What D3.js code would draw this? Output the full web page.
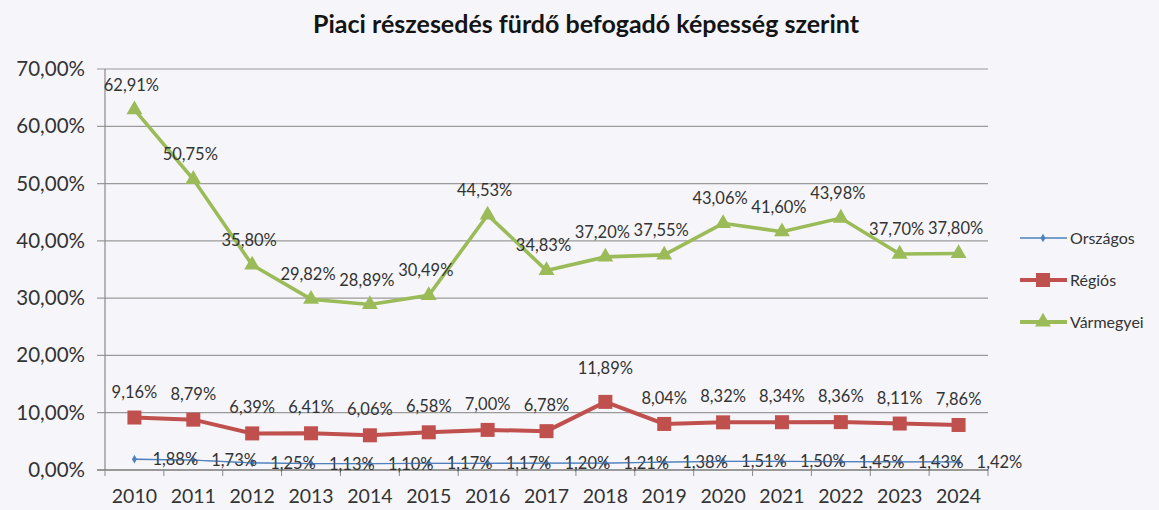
<!DOCTYPE html>
<html><head><meta charset="utf-8">
<script src="https://cdn.jsdelivr.net/npm/d3@7"></script>
<style>
body{margin:0;background:#f6f6fa;}
svg{display:block;font-family:Lato,'Open Sans',sans-serif;}
</style>
</head><body>
<svg id="c" width="1159" height="510"></svg>
<script>
const title = "Piaci részesedés fürdő befogadó képesség szerint";
const years = [2010,2011,2012,2013,2014,2015,2016,2017,2018,2019,2020,2021,2022,2023,2024];
const orszagos = [1.88,1.73,1.25,1.13,1.10,1.17,1.17,1.20,1.21,1.38,1.51,1.50,1.45,1.43,1.42];
const regios = [9.16,8.79,6.39,6.41,6.06,6.58,7.00,6.78,11.89,8.04,8.32,8.34,8.36,8.11,7.86];
const varmegyei = [62.91,50.75,35.80,29.82,28.89,30.49,44.53,34.83,37.20,37.55,43.06,41.60,43.98,37.70,37.80];
const yTicks = [0,10,20,30,40,50,60,70];
const seriesNames = ["Országos","Régiós","Vármegyei"];

(function(){
const svg = d3.select("#c");
const pL = 105, pR = 988, pT = 69, pB = 470;
const x = d3.scaleBand().domain(years).range([pL, pR]);
const y = d3.scaleLinear().domain([0, 70]).range([pB, pT]);
const cx = d => x(d) + x.bandwidth() / 2;
const fmt = v => d3.format(".2f")(v).replace(".", ",") + "%";
const txt = "#333333";

svg.append("rect").attr("width",1159).attr("height",510).attr("fill","#f6f6fa");

// title
svg.append("text").attr("x", 586).attr("y", 33).attr("text-anchor","middle")
  .attr("font-weight","bold").attr("font-size",25).attr("fill","#141414").text(title);

// gridlines
svg.append("g").selectAll("line").data(yTicks.filter(t=>t>0)).join("line")
  .attr("x1", pL - 8).attr("x2", pR)
  .attr("y1", d => y(d)).attr("y2", d => y(d))
  .attr("stroke", "#9a9a9a").attr("stroke-width", 1.2);

// y axis line
svg.append("line").attr("x1",pL).attr("x2",pL).attr("y1",pT).attr("y2",pB)
  .attr("stroke","#8a8a8a").attr("stroke-width",1.2);
// x axis
const xa = d3.axisBottom(x).tickSize(0).tickFormat(d => d);
const gx = svg.append("g").attr("transform", `translate(0,${pB})`).call(xa);
gx.select(".domain").attr("stroke","#7a7a7a").attr("stroke-width",1.4)
  .attr("d", `M${pL-8},0H${pR}`);
gx.selectAll("text").attr("font-size",19.5).attr("fill",txt).attr("dy","1.55em").attr("font-family","Lato,'Open Sans',sans-serif");
// boundary ticks
svg.append("g").selectAll("line").data(years.concat(["end"])).join("line")
  .attr("x1", d => d === "end" ? pR : x(d)).attr("x2", d => d === "end" ? pR : x(d))
  .attr("y1", pB).attr("y2", pB + 6).attr("stroke","#8a8a8a");

// y labels
const ya = d3.axisLeft(y).tickValues(yTicks).tickSize(0).tickFormat(fmt);
const gy = svg.append("g").attr("transform", `translate(${pL-17},0)`).call(ya);
gy.select(".domain").remove();
gy.selectAll("text").attr("font-size",20.5).attr("fill",txt).attr("font-family","Lato,'Open Sans',sans-serif");

const line = d3.line().x((d,i) => cx(years[i])).y(d => y(d));

svg.append("path").datum(orszagos).attr("d", line).attr("fill","none")
  .attr("stroke","#4f81bd").attr("stroke-width",1.3);
svg.append("path").datum(regios).attr("d", line).attr("fill","none")
  .attr("stroke","#c0504d").attr("stroke-width",4);
svg.append("path").datum(varmegyei).attr("d", line).attr("fill","none")
  .attr("stroke","#9bbb59").attr("stroke-width",3.6);

svg.append("g").selectAll("path").data(orszagos).join("path")
  .attr("d", d3.symbol(d3.symbolDiamond, 22))
  .attr("transform", (d,i) => `translate(${cx(years[i])},${y(d)})`).attr("fill","#4f81bd");
svg.append("g").selectAll("rect").data(regios).join("rect")
  .attr("x", (d,i) => cx(years[i]) - 7).attr("y", d => y(d) - 7)
  .attr("width",14).attr("height",14).attr("fill","#c0504d");
svg.append("g").selectAll("path").data(varmegyei).join("path")
  .attr("d", d3.symbol(d3.symbolTriangle, 110))
  .attr("transform", (d,i) => `translate(${cx(years[i])},${y(d)})`).attr("fill","#9bbb59");

const lf = 16.5;
svg.append("g").selectAll("text").data(varmegyei).join("text")
  .attr("x", (d,i) => cx(years[i]) - 3).attr("y", d => y(d) - 19)
  .attr("text-anchor","middle").attr("font-size",lf).attr("fill",txt).text(fmt);
svg.append("g").selectAll("text").data(regios).join("text")
  .attr("x", (d,i) => cx(years[i])).attr("y", d => y(d) - (d > 10 ? 28 : 20))
  .attr("text-anchor","middle").attr("font-size",lf).attr("fill",txt).text(fmt);
svg.append("g").selectAll("text").data(orszagos).join("text")
  .attr("x", (d,i) => cx(years[i]) + 18).attr("y", d => y(d) + 6)
  .attr("text-anchor","start").attr("font-size",lf).attr("fill",txt).text(fmt);
svg.append("path").datum(orszagos).attr("d", line).attr("fill","none")
  .attr("stroke","#4f81bd").attr("stroke-width",1).attr("opacity",0.6);

const colors = ["#4f81bd","#c0504d","#9bbb59"];
const lg = svg.append("g").selectAll("g").data(seriesNames).join("g")
  .attr("transform", (d,i) => `translate(1020,${238 + i*42})`);
lg.append("line").attr("x1",0).attr("x2",47).attr("stroke",(d,i)=>colors[i])
  .attr("stroke-width",(d,i)=> i===0 ? 1.3 : 4);
lg.each(function(d,i){
  const g = d3.select(this);
  if (i===0) g.append("path").attr("d", d3.symbol(d3.symbolDiamond, 22)).attr("transform","translate(23,0)").attr("fill",colors[0]);
  if (i===1) g.append("rect").attr("x",16).attr("y",-7).attr("width",14).attr("height",14).attr("fill",colors[1]);
  if (i===2) g.append("path").attr("d", d3.symbol(d3.symbolTriangle, 110)).attr("transform","translate(23,0)").attr("fill",colors[2]);
});
lg.append("text").attr("x",50).attr("y",6).attr("font-size",16).attr("fill",txt).text(d=>d);
})();
</script>
</body></html>
